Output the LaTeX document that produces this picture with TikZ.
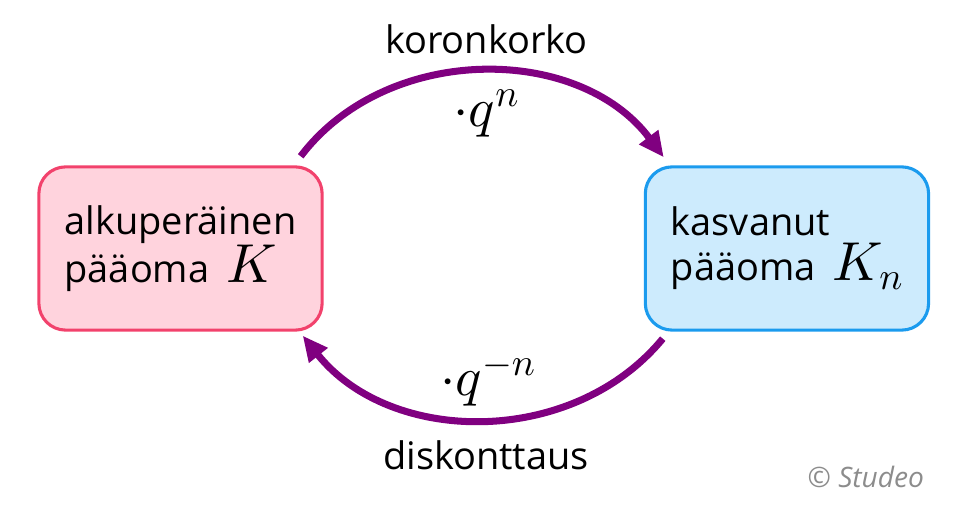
\documentclass[tikz,border=0pt]{standalone}
\usepackage{fontspec}
\setmainfont{Open Sans}
\DeclareFontShape{OML}{cmm}{m}{it}{<->cmmi10}{\skewchar\font127}
\DeclareFontShape{OMS}{cmsy}{m}{n}{<->cmsy10}{\skewchar\font48}
\usepackage{tikz}
\usetikzlibrary{positioning, calc, arrows.meta}
\definecolor{pinkfill}{HTML}{FFD3DD}
\definecolor{pinkline}{HTML}{F2426C}
\definecolor{bluefill}{HTML}{CDEBFD}
\definecolor{blueline}{HTML}{1B9BEE}
\definecolor{lila}{HTML}{800080}
\definecolor{copygray}{HTML}{8C8C8C}
\newcommand{\bigmath}[1]{{\fontsize{39}{32}\selectfont$#1$}}

\begin{document}
\begin{tikzpicture}[x=0.025cm, y=0.025cm, font=\fontsize{27}{32}\selectfont,
                    box/.style={rounded corners=0.67cm, line width=2.2pt, minimum width=7.08cm, minimum height=4.08cm, align=left},
                    flow/.style={draw=lila, line width=5pt, -{Triangle[length=18pt, width=16pt]}}]
                    \useasboundingbox (0,0) rectangle (958,510);
                    \node[box, draw=pinkline, fill=pinkfill] (K) at (180.5,261.5) {alkuperäinen\\pääoma\hspace{0.45em}\bigmath{K}};
                    \node[box, draw=blueline, fill=bluefill, right=8cm of K] (Kn) {kasvanut\\pääoma\hspace{0.45em}\bigmath{K_n}};
                    % korko ja diskonttaus
                    \draw[flow] ($(K.north east)+(-23,9)$) to[bend left=53]
                        node[anchor=base, xshift=0.1cm, yshift=0.45cm] (kk) {koronkorko}
                        node[anchor=north, inner sep=0pt, xshift=0.1cm, yshift=-0.36cm] (qn) {\bigmath{\cdot q^n}}
                        ($(Kn.north west)+(20,8)$);
                    \draw[flow] ($(Kn.south west)+(19,-7)$) to[bend left=51]
                        node[anchor=south, inner sep=0pt, xshift=0.15cm, yshift=0.24cm] (qmn) {\bigmath{\cdot q^{-n}}}
                        node[anchor=base, xshift=0.1cm, yshift=-1.25cm] (disk) {diskonttaus}
                        ($(K.south east)+(-21,-4)$);
                    \node[anchor=base east, text=copygray, font=\fontsize{20}{22}\selectfont\itshape] (copy) at (929,22) {© Studeo};
                \end{tikzpicture}
\end{document}
